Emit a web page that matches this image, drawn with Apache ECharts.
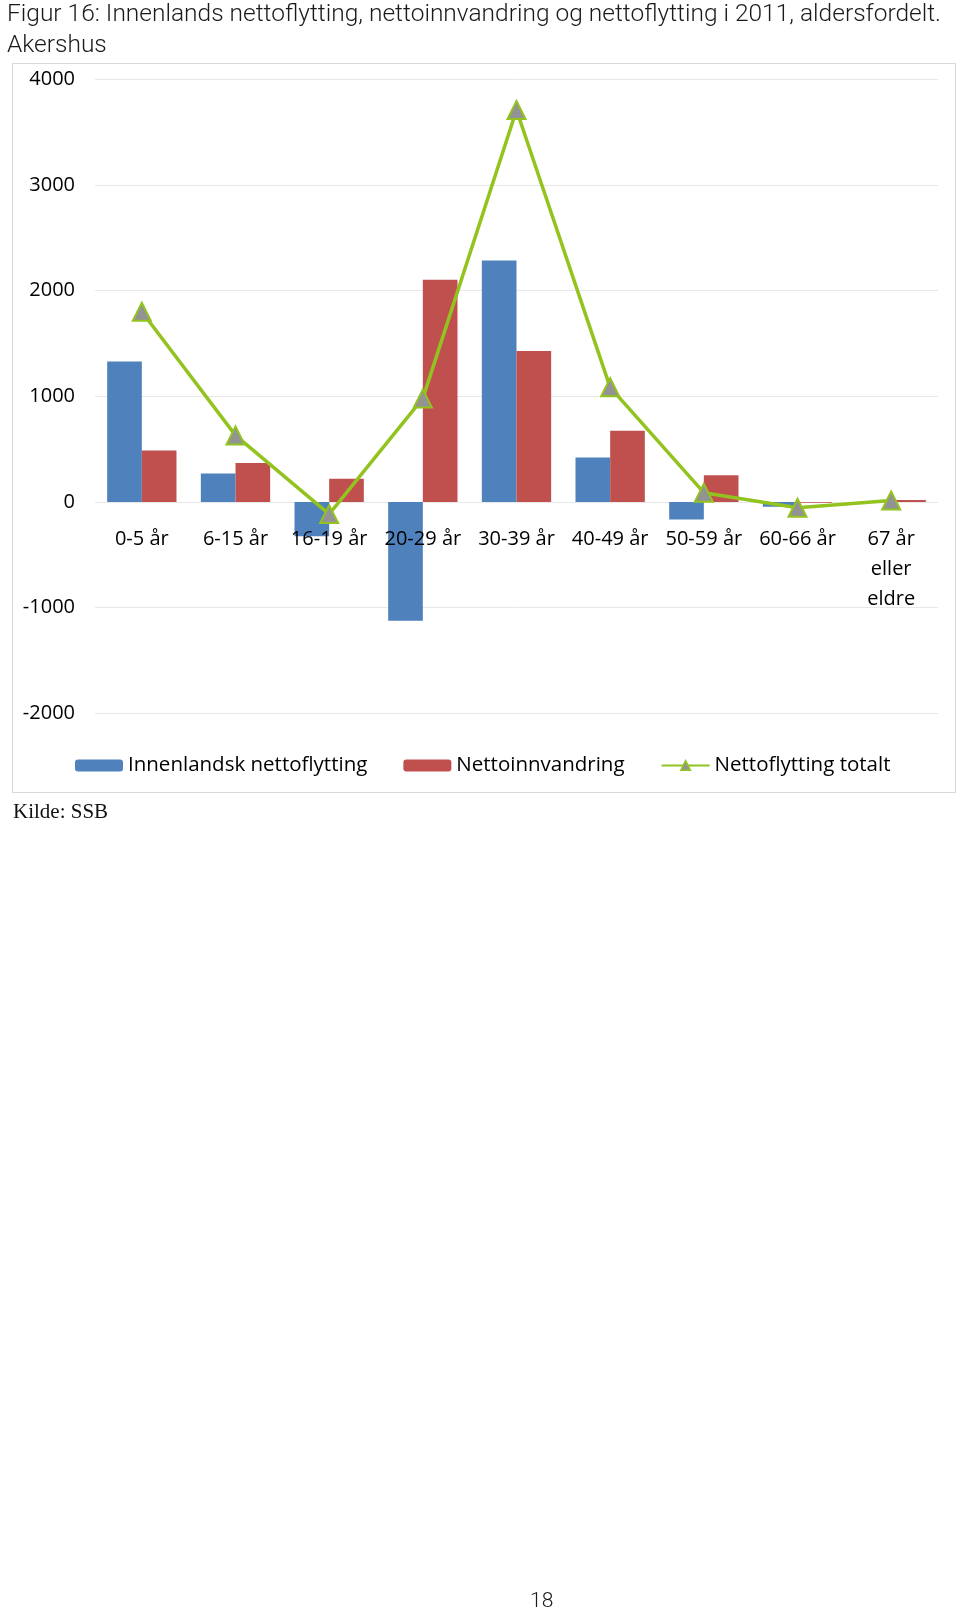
<!DOCTYPE html>
<html>
<head>
<meta charset="utf-8">
<script src="https://cdn.jsdelivr.net/npm/echarts@6/dist/echarts.min.js"></script>
<style>
html,body{margin:0;padding:0;background:#fff;}
#chart{width:960px;height:1614px;}
</style>
</head>
<body>
<div id="chart"></div>
<script>
var categories = ['0-5 år', '6-15 år', '16-19 år', '20-29 år', '30-39 år', '40-49 år', '50-59 år', '60-66 år', '67 år\neller\neldre'];
var innenlandsk = [1330, 270, -325, -1125, 2285, 422, -167, -45, 0];
var innvandring = [488, 369, 220, 2102, 1428, 674, 252, -8, 18];
var totalt = [1800, 630, -115, 980, 3710, 1085, 88, -55, 15];
var yTicks = {min: -2000, max: 4000, interval: 1000};

var chart = echarts.init(document.getElementById('chart'), null, {renderer: 'canvas'});
var baseFont = '"Open Sans", "DejaVu Sans", sans-serif';
var lineGreen = '#92C31E';
chart.setOption({
  backgroundColor: '#ffffff',
  animation: false,
  title: [{
    text: 'Figur 16: Innenlands nettoflytting, nettoinnvandring og nettoflytting i 2011, aldersfordelt.\nAkershus',
    left: 2, top: -6,
    textStyle: {fontFamily: 'Roboto, "Liberation Sans", sans-serif', fontWeight: 300, fontSize: 24.5, lineHeight: 31, color: '#1a1a1a'}
  }, {
    text: 'Kilde: SSB',
    left: 8, top: 797,
    textStyle: {fontFamily: '"Liberation Serif", "DejaVu Serif", serif', fontWeight: 'normal', fontSize: 21, color: '#111'}
  }, {
    text: '18',
    left: 525, top: 1586,
    textStyle: {fontFamily: 'Roboto, sans-serif', fontWeight: 300, fontSize: 21, color: '#1a1a1a'}
  }],
  graphic: [{
    type: 'rect',
    shape: {x: 12.5, y: 63.5, width: 943, height: 729},
    style: {fill: 'none', stroke: '#d9d9d9', lineWidth: 1},
    silent: true, z: -1
  }],
  legend: {
    left: 70, top: 750,
    itemWidth: 48, itemHeight: 12, itemGap: 36,
    textStyle: {fontFamily: baseFont, fontSize: 20.5, color: '#000'},
    data: [
      'Innenlandsk nettoflytting',
      'Nettoinnvandring',
      {name: 'Nettoflytting totalt', itemStyle: {color: '#939393', borderColor: lineGreen, borderWidth: 1.5}}
    ]
  },
  grid: {left: 95, right: 22, top: 79.3, bottom: 900.7, containLabel: false},
  xAxis: {
    type: 'category',
    data: categories,
    z: 10,
    axisLine: {show: false, onZero: false},
    axisTick: {show: false},
    axisLabel: {interval: 0, margin: -189, fontFamily: baseFont, fontSize: 20, lineHeight: 30, color: '#000'},
    splitLine: {show: false}
  },
  yAxis: {
    type: 'value',
    min: yTicks.min, max: yTicks.max, interval: yTicks.interval,
    axisLine: {show: false},
    axisTick: {show: false},
    axisLabel: {margin: 20, padding: [8, 0, 0, 0], fontFamily: baseFont, fontSize: 20, color: '#000', formatter: function (v) { return String(v); }},
    splitLine: {lineStyle: {color: '#e8e8e8', width: 1}}
  },
  series: [{
    name: 'Innenlandsk nettoflytting',
    type: 'bar',
    data: innenlandsk,
    barGap: '0%',
    barCategoryGap: '26%',
    itemStyle: {color: '#4F81BD'}
  }, {
    name: 'Nettoinnvandring',
    type: 'bar',
    data: innvandring,
    barGap: '0%',
    barCategoryGap: '26%',
    itemStyle: {color: '#C0504D'}
  }, {
    name: 'Nettoflytting totalt',
    type: 'line',
    data: totalt,
    z: 5,
    symbol: 'triangle',
    symbolSize: 18,
    lineStyle: {color: lineGreen, width: 3.5},
    itemStyle: {color: '#939393', borderColor: lineGreen, borderWidth: 2}
  }]
});
</script>
</body>
</html>
